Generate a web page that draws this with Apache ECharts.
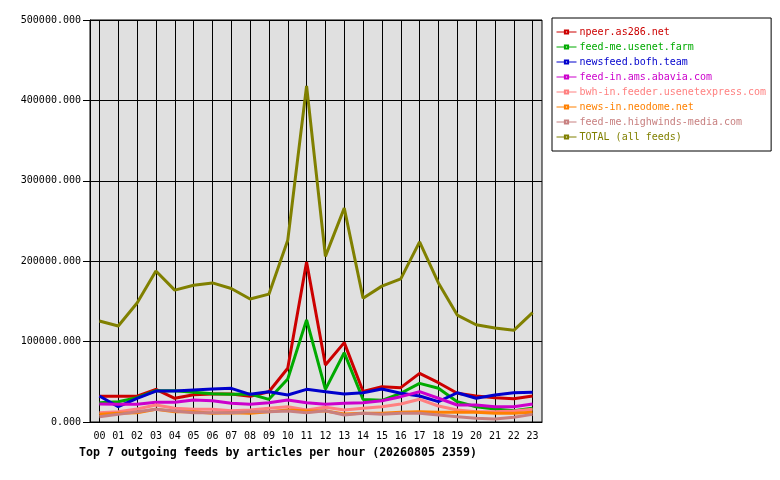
<!DOCTYPE html>
<html>
<head>
<meta charset="utf-8">
<script src="https://cdn.jsdelivr.net/npm/echarts@6/dist/echarts.min.js"></script>
<style>
	html, body { margin: 0; padding: 0; background: #fff; }
	#feeds_div { width: 780px; height: 480px; }
</style>
</head>
<body>
<div id="feeds_div"></div>
<script>
var hours = ['00','01','02','03','04','05','06','07','08','09','10','11',
             '12','13','14','15','16','17','18','19','20','21','22','23'];

var feedNames = ['npeer.as286.net', 'feed-me.usenet.farm', 'newsfeed.bofh.team',
                 'feed-in.ams.abavia.com', 'bwh-in.feeder.usenetexpress.com',
                 'news-in.neodome.net', 'feed-me.highwinds-media.com', 'TOTAL (all feeds)'];

var npeer     = [32000, 32000, 32000, 40600, 29500, 34000, 34800, 34800, 32000, 37700, 66800, 199000,
                 70900, 98700, 38000, 43900, 42700, 60500, 48900, 35700, 32300, 30200, 29000, 32300];
var usenetFarm = [24000, 25300, 30200, 39000, 39000, 37000, 35200, 34400, 34800, 28200, 53500, 127000,
                 40600, 86200, 28000, 27000, 35700, 48100, 41900, 25300, 19000, 16200, 14000, 17000];
var bofh      = [32300, 19000, 29500, 38500, 38500, 39800, 41000, 41900, 34400, 37700, 33600, 40600,
                 37700, 34800, 36400, 41000, 35700, 32300, 25300, 36400, 29500, 33600, 36400, 36900];
var abavia    = [22400, 22000, 22000, 24500, 24500, 27400, 26500, 23200, 22000, 24000, 27400, 24000,
                 22000, 23200, 24000, 26500, 31500, 37700, 29500, 21100, 21100, 19000, 19000, 22400];
var usenetExpress = [11600, 12800, 16200, 21100, 17000, 15800, 15800, 14000, 14900, 17000, 19000, 14900,
                 18300, 14900, 17000, 19000, 22400, 28200, 19900, 14900, 12800, 12800, 13700, 15800];
var neodome   = [9500, 10800, 11600, 15800, 12800, 12800, 11000, 11600, 10800, 12800, 14900, 13700,
                 13700, 10000, 10800, 10800, 12000, 12800, 12000, 12000, 12000, 10800, 10800, 12000];
var highwinds = [6600, 9500, 12800, 15800, 13700, 11600, 11600, 11600, 12800, 12800, 13700, 11600,
                 14000, 8700, 10800, 9500, 10800, 10800, 8700, 6600, 4600, 3700, 5800, 9500];
var total     = [125600, 119400, 148000, 187800, 164000, 170000, 173000, 166000, 153000, 159000, 226000, 418000,
                 206000, 266000, 154000, 169000, 178000, 224000, 173000, 133000, 121000, 117000, 114000, 136000];

var yTicks = [0, 100000, 200000, 300000, 400000, 500000];

var FeedsChart = {

	colors : ['#cc0000', '#00aa00', '#0000cc', '#cc00cc', '#ff8080', '#ff8000', '#c88080', '#808000'],
	font : '"DejaVu Sans Mono", monospace',

	init : function() {
		FeedsChart.line = window.echarts.init(document.getElementById("feeds_div"), null, {renderer : 'canvas'});
		FeedsChart.renderChart([npeer, usenetFarm, bofh, abavia, usenetExpress, neodome, highwinds, total]);
	},
	renderChart : function(seriesValues) {
		var seriesDatas = [];
		var legendData = [];
		$each(seriesValues, function(i, values) {
			seriesDatas.push({
				name : feedNames[i],
				type : 'line',
				data : values,
				symbol : 'emptyRect',
				symbolSize : 4,
				showSymbol : false,
				animation : false,
				z : 3,
				lineStyle : {color : FeedsChart.colors[i], width : 3},
				itemStyle : {color : FeedsChart.colors[i]}
			});
			legendData.push({
				name : feedNames[i],
				textStyle : {color : FeedsChart.colors[i]}
			});
		});

		// vertical grid lines sit on the hours, not between them
		var hourLines = [];
		$each(hours, function(i, h) {
			hourLines.push({xAxis : h});
		});
		seriesDatas[0].markLine = {
			silent : true,
			animation : false,
			z : 1,
			symbol : ['none', 'none'],
			label : {show : false},
			lineStyle : {color : '#000', width : 1, type : 'solid'},
			emphasis : {disabled : true},
			data : hourLines
		};

		var option = {
			backgroundColor : '#fff',
			color : FeedsChart.colors,
			title : {
				text : 'Top 7 outgoing feeds by articles per hour (20260805 2359)',
				left : 74,
				top : 442,
				textStyle : {
					fontFamily : FeedsChart.font,
					fontSize : 11.6,
					fontWeight : 'bold',
					color : '#000'
				}
			},
			legend : {
				orient : 'vertical',
				left : 552,
				top : 18,
				padding : [8, 5, 8, 4],
				backgroundColor : '#fff',
				borderColor : '#000',
				borderWidth : 1,
				itemWidth : 20,
				itemHeight : 4,
				itemGap : 3,
				data : legendData,
				lineStyle : {width : 1},
				textStyle : {
					fontFamily : FeedsChart.font,
					fontSize : 10,
					lineHeight : 12,
					padding : [0, 0, 0, -2]
				}
			},
			grid : {
				show : true,
				left : 90,
				top : 20,
				right : 238,
				bottom : 58,
				backgroundColor : '#e0e0e0',
				borderColor : '#000',
				borderWidth : 1
			},
			xAxis : [ {
				type : 'category',
				boundaryGap : true,
				data : hours,
				axisLine : {lineStyle : {color : '#000', width : 1}},
				axisTick : {show : false},
				splitLine : {show : false},
				axisLabel : {
					margin : 9,
					color : '#000',
					fontFamily : FeedsChart.font,
					fontSize : 10
				}
			} ],
			yAxis : [ {
				type : 'value',
				min : yTicks[0],
				max : yTicks[yTicks.length - 1],
				interval : yTicks[1] - yTicks[0],
				axisLine : {show : true, lineStyle : {color : '#000', width : 1}},
				axisTick : {show : true, length : 7, lineStyle : {color : '#000'}},
				splitLine : {show : true, lineStyle : {color : '#000', width : 1}},
				axisLabel : {
					margin : 9,
					color : '#000',
					fontFamily : FeedsChart.font,
					fontSize : 10,
					formatter : function(v) { return v.toFixed(3); }
				}
			} ],
			series : seriesDatas
		};
		FeedsChart.line.clear();
		FeedsChart.line.setOption(option);
	}
};

function $each(arr, fn) {
	for (var i = 0; i < arr.length; i++) {
		fn(i, arr[i]);
	}
}

FeedsChart.init();
</script>
</body>
</html>
